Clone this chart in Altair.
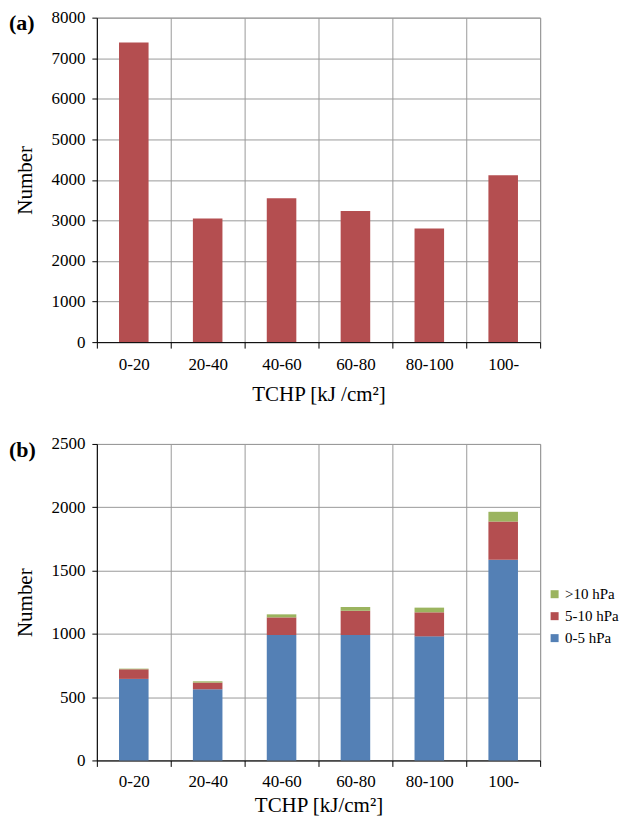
import altair as alt
import pandas as pd

# ---- data ----
categories = ["0-20", "20-40", "40-60", "60-80", "80-100", "100-"]
total_counts = [7390, 3050, 3550, 3235, 2800, 4115]          # panel (a)
p_0_5 = [644, 562, 991, 990, 980, 1585]                      # panel (b) 0-5 hPa
p_5_10 = [76, 53, 139, 193, 190, 302]                        # panel (b) 5-10 hPa
p_gt10 = [5, 10, 24, 29, 37, 77]                             # panel (b) >10 hPa
levels = [">10 hPa", "5-10 hPa", "0-5 hPa"]
level_colors = ["#9BB45F", "#B44E50", "#5480B5"]
ticks_a = list(range(0, 8001, 1000))
ticks_b = list(range(0, 2501, 500))

FONT = "Liberation Serif"
GRID = "#9a9a9a"

dfA = pd.DataFrame({"cat": categories, "count": total_counts})
rows = []
for i, c in enumerate(categories):
    rows.append({"cat": c, "level": "0-5 hPa", "value": p_0_5[i], "ord": 0})
    rows.append({"cat": c, "level": "5-10 hPa", "value": p_5_10[i], "ord": 1})
    rows.append({"cat": c, "level": ">10 hPa", "value": p_gt10[i], "ord": 2})
dfB = pd.DataFrame(rows)


def x_axis(title, label_pad, title_pad):
    return alt.Axis(title=title, labelAngle=0, tickBand="extent", grid=True,
                    gridColor=GRID, ticks=True, tickSize=6, tickColor="black",
                    domainColor="black", labelPadding=label_pad, titlePadding=title_pad,
                    labelFont=FONT, labelFontSize=17, labelColor="black",
                    titleFont=FONT, titleFontSize=21, titleFontWeight="normal", titleColor="black")


def y_axis(vals):
    return alt.Axis(title="Number", values=vals, format="d", grid=True, gridColor=GRID,
                    tickSize=5, tickColor="black", domainColor="black",
                    labelPadding=7, titlePadding=15,
                    labelFont=FONT, labelFontSize=17, labelColor="black",
                    titleFont=FONT, titleFontSize=21, titleFontWeight="normal", titleColor="black")


xscale = alt.Scale(paddingInner=0, paddingOuter=0)

bars_a = alt.Chart(dfA).mark_bar(width=alt.RelativeBandSize(0.4), color="#B44E50").encode(
    x=alt.X("cat:N", sort=categories, scale=xscale, axis=x_axis("TCHP [kJ /cm²]", 8, 11)),
    y=alt.Y("count:Q", scale=alt.Scale(domain=[0, 8000], nice=False), axis=y_axis(ticks_a)),
)
lab_a = alt.Chart(pd.DataFrame({"t": ["(a)"]})).mark_text(
    font=FONT, fontSize=22, fontWeight="bold", align="left", baseline="alphabetic", color="black"
).encode(text="t:N", x=alt.value(-88), y=alt.value(12))
panel_a = alt.layer(bars_a, lab_a).properties(width=444, height=325)

bars_b = alt.Chart(dfB).mark_bar(width=alt.RelativeBandSize(0.4)).encode(
    x=alt.X("cat:N", sort=categories, scale=xscale, axis=x_axis("TCHP [kJ/cm²]", 7, 5)),
    y=alt.Y("value:Q", stack="zero", scale=alt.Scale(domain=[0, 2500], nice=False), axis=y_axis(ticks_b)),
    color=alt.Color("level:N", scale=alt.Scale(domain=levels, range=level_colors),
                    legend=alt.Legend(title=None, orient="none", legendX=451, legendY=570,
                                      symbolType="square", symbolSize=64, symbolStrokeWidth=0,
                                      labelFont=FONT, labelFontSize=15, labelColor="black",
                                      rowPadding=6, labelOffset=3, padding=0)),
    order=alt.Order("ord:Q", sort="ascending"),
)
lab_b = alt.Chart(pd.DataFrame({"t": ["(b)"]})).mark_text(
    font=FONT, fontSize=22, fontWeight="bold", align="left", baseline="alphabetic", color="black"
).encode(text="t:N", x=alt.value(-88), y=alt.value(13))
panel_b = alt.layer(bars_b, lab_b).properties(width=444, height=317)

chart = alt.vconcat(panel_a, panel_b, spacing=29).properties(
    padding={"left": 0, "top": -1, "right": 0, "bottom": 0}
).configure_view(stroke=GRID, strokeWidth=1).configure_axis(
    labelFont=FONT, titleFont=FONT, labelFontSize=17, titleFontSize=21,
    titleFontWeight="normal", labelColor="black", titleColor="black"
)

chart.save("out.html", embed_options={"renderer": "svg", "actions": False})
